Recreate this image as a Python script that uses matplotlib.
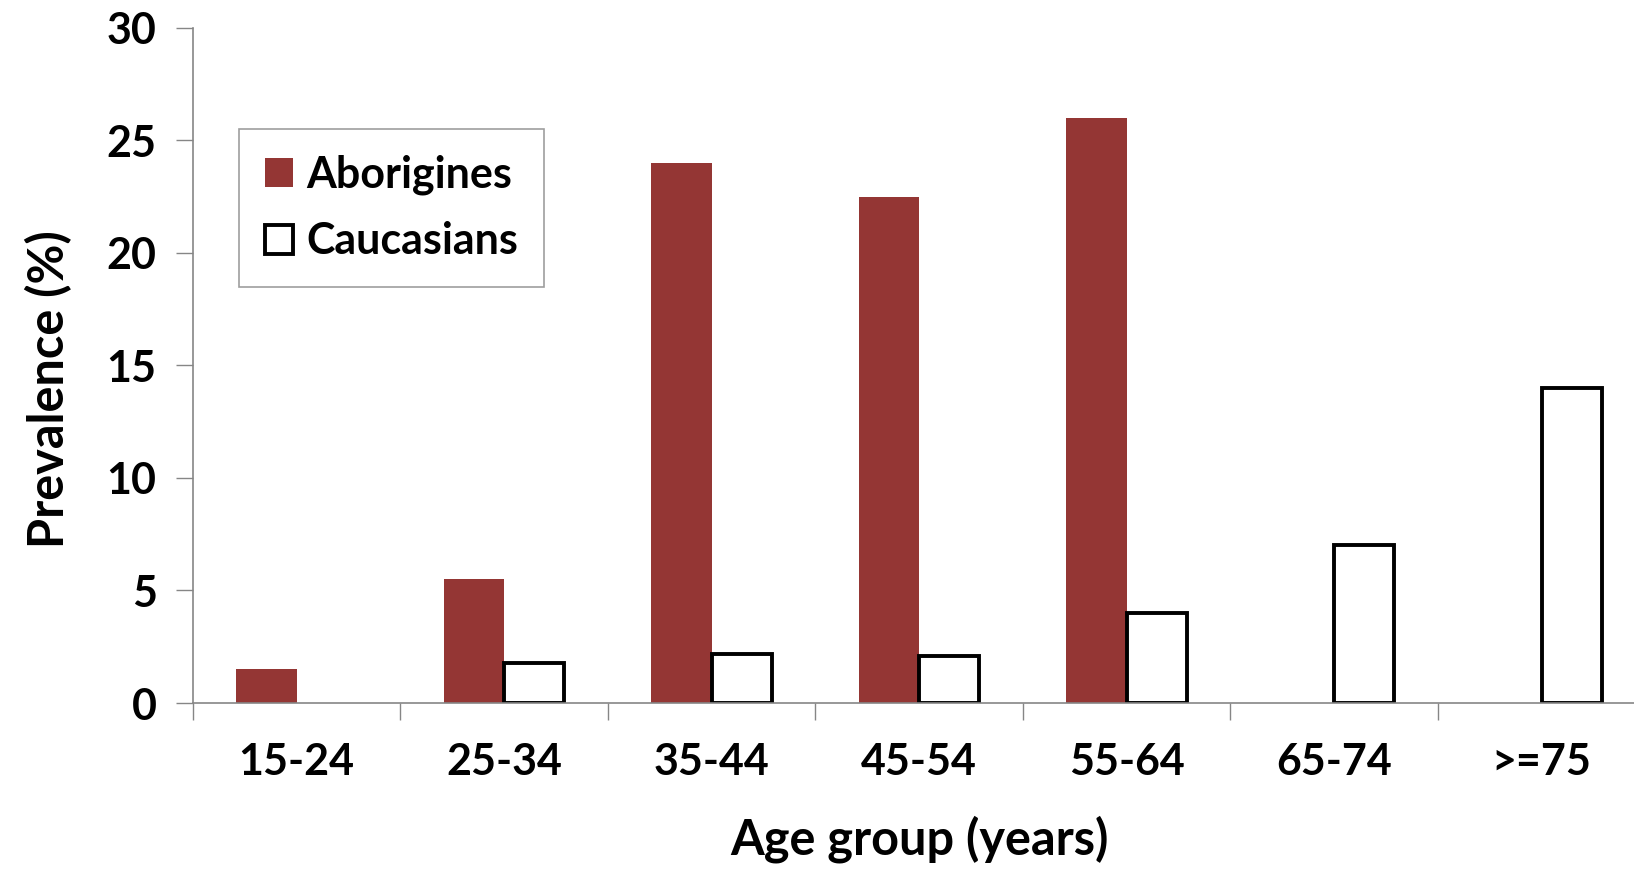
from matplotlib import pyplot as plt
import numpy as np

# age groups and prevalence (%)
age_groups = ['15-24', '25-34', '35-44', '45-54', '55-64', '65-74', '>=75']
aborigines = [1.5, 5.5, 24.0, 22.5, 26.0, np.nan, np.nan]
caucasians = [np.nan, 1.8, 2.2, 2.1, 4.0, 7.0, 14.0]

plt.rcParams['font.family'] = ['Lato', 'DejaVu Sans']
plt.rcParams['font.weight'] = 'bold'

fig = plt.figure(figsize=(16.34, 8.69), dpi=100)
ax = fig.add_axes([0.118, 0.191, 0.889, 0.777])

x = np.arange(len(age_groups))
w = 0.29

ax.bar(x - w / 2, aborigines, width=w, color='#943634', label='Aborigines')
ax.bar(x + w / 2, caucasians, width=w, color='white', edgecolor='black',
       linewidth=2.8, label='Caucasians')

ax.set_xlim(-0.5, 6.5)
ax.set_ylim(0, 30)

# ticks between categories, labels in the middle (spreadsheet style)
ax.set_xticks(np.arange(-0.5, 7, 1))
ax.set_xticklabels([])
ax.set_xticks(x, minor=True)
ax.set_xticklabels(age_groups, minor=True)
ax.tick_params(axis='x', which='major', length=12, width=1, color='#868686')
ax.tick_params(axis='x', which='minor', length=0, pad=28, labelsize=31)
ax.set_yticks(np.arange(0, 31, 5))
ax.tick_params(axis='y', length=12, width=1, color='#868686', labelsize=31, pad=14)

for side in ['top', 'right']:
    ax.spines[side].set_visible(False)
for side in ['left', 'bottom']:
    ax.spines[side].set_color('#868686')
    ax.spines[side].set_linewidth(1.2)

ax.set_xlabel('Age group (years)', fontsize=35, fontweight='bold', labelpad=24)
ax.set_ylabel('Prevalence (%)', fontsize=35, fontweight='bold', labelpad=25)
ax.yaxis.label.set_y(0.465)

leg = ax.legend(loc='upper left', bbox_to_anchor=(0.032, 0.85), fontsize=31,
                fancybox=False, edgecolor='#868686', handlelength=0.65,
                handleheight=0.65, handletextpad=0.3, labelspacing=0.6,
                borderpad=0.6, borderaxespad=0)
leg.get_frame().set_linewidth(1.2)

fig.savefig('out.png')
